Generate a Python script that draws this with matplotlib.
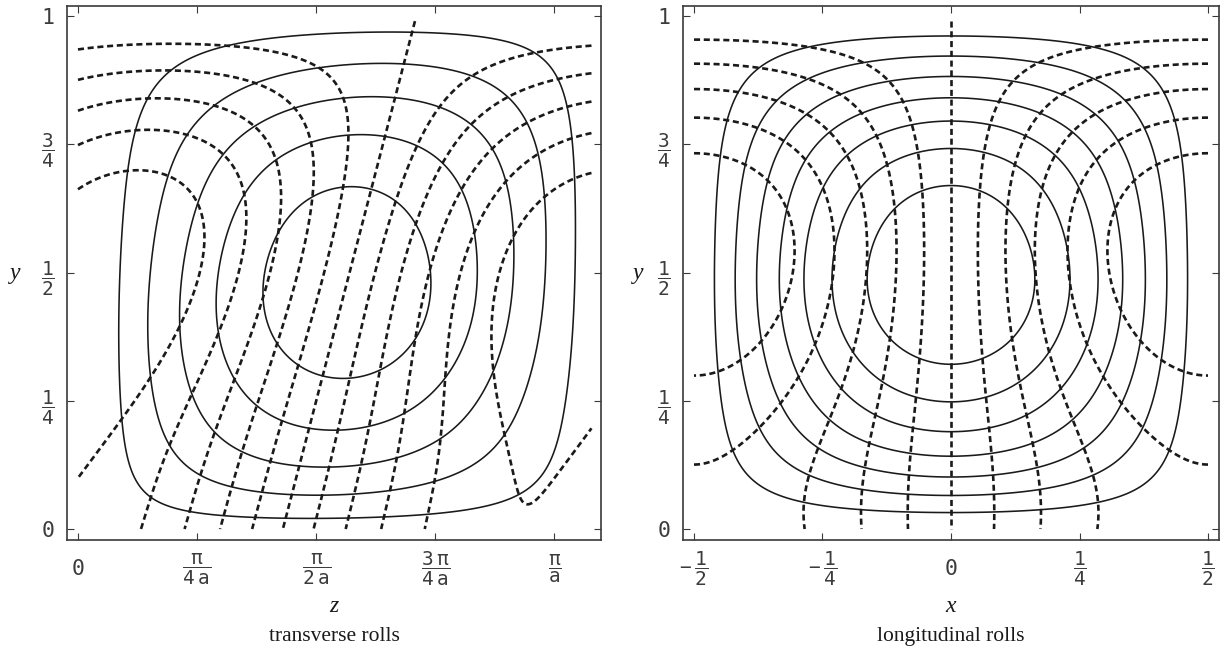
import numpy as np
import matplotlib
matplotlib.use("Agg")
import matplotlib.pyplot as plt

# ---------------------------------------------------------------- data
# Streamfunction profile across the layer (height, normalised value on roll axis)
axis_y = [0.0, 0.029, 0.063, 0.102, 0.144, 0.191, 0.248, 0.318, 0.497,
          0.674, 0.740, 0.794, 0.840, 0.883, 0.923, 0.961, 1.0]
axis_psi = [0.0, 0.125, 0.25, 0.375, 0.5, 0.625, 0.75, 0.875, 1.0,
            0.875, 0.75, 0.625, 0.5, 0.375, 0.25, 0.125, 0.0]

# Amplitude profiles of the dashed (isotherm) field
long_amp_y = [0.0, 0.129, 0.296, 0.5, 0.733, 0.805, 0.856, 0.904, 0.957, 1.0]
long_amp = [3.85, 4.0, 5.0, 6.05, 5.0, 4.0, 3.0, 2.0, 1.0, 0.0]
trans_amp_y = [0.0, 0.04, 0.103, 0.193, 0.5, 0.684, 0.759, 0.826, 0.885, 0.938, 1.0]
trans_amp = [4.96, 5.01, 5.05, 5.2, 6.0, 5.15, 4.25, 3.25, 2.2, 1.12, 0.0]

# Transverse rolls: phase line of the isotherm field and roll geometry (units of pi/a)
trans_phase0 = 0.43      # zero line at the bottom
trans_tilt = 0.28        # drift of the zero line per unit height
trans_zmax = 1.0776      # extent of the computed field in z
roll_centre = 0.565
roll_width = 1.02
roll_skew = -0.09        # corner distortion, strongest on the outer streamlines
roll_warp = 0.953        # roll core sits slightly below mid-height

# Contour levels
long_psi_levels = [1/8, 2/8, 3/8, 4/8, 5/8, 6/8, 7/8]
trans_psi_levels = [0.10, 0.29, 0.48, 0.67, 0.86]
iso_levels = [-5, -4, -3, -2, -1, 0, 1, 2, 3, 4, 5]

# Tick positions and labels
trans_xticks = [0, 0.25, 0.5, 0.75, 1.0]
trans_xlabels = ["0", r"$\dfrac{\pi}{4\ a}$", r"$\dfrac{\pi}{2\ a}$",
                 r"$\dfrac{3\ \pi}{4\ a}$", r"$\dfrac{\pi}{a}$"]
long_xticks = [-0.5, -0.25, 0, 0.25, 0.5]
long_xlabels = [r"$-\ \dfrac{1}{2}$", r"$-\ \dfrac{1}{4}$", "0",
                r"$\dfrac{1}{4}$", r"$\dfrac{1}{2}$"]
yticks = [0, 0.25, 0.5, 0.75, 1.0]
ylabels = ["0", r"$\dfrac{1}{4}$", r"$\dfrac{1}{2}$", r"$\dfrac{3}{4}$", "1"]

# ---------------------------------------------------------------- style
plt.rcParams.update({
    "mathtext.fontset": "custom",
    "mathtext.rm": "DejaVu Sans Mono",
    "mathtext.it": "DejaVu Sans Mono",
    "mathtext.bf": "DejaVu Sans Mono",
    "font.family": "DejaVu Sans Mono",
})
INK = "#1a1a1a"
FRAME = "#3a3a3a"
LABEL = "#3c3c3c"
SERIF = "Liberation Serif"


def sine_fit(yk, vk, nterms=6):
    """Least-squares sine series vanishing at y = 0 and y = 1."""
    yk = np.asarray(yk, float)
    M = np.column_stack([np.sin((k + 1) * np.pi * yk) for k in range(nterms)])
    coef, *_ = np.linalg.lstsq(M, np.asarray(vk, float), rcond=None)
    return lambda y: sum(c * np.sin((k + 1) * np.pi * y) for k, c in enumerate(coef))


def poly_fit(yk, vk, deg=5):
    p = np.polyfit(yk, vk, deg)
    return lambda y: np.polyval(p, y)


G = sine_fit(axis_y, axis_psi)
A_long = poly_fit(long_amp_y, long_amp)
A_trans = poly_fit(trans_amp_y, trans_amp)

n = 500
# ---------------- longitudinal rolls
xl = np.linspace(-0.5, 0.5, n)
yl = np.linspace(0.0, 1.0, n)
XL, YL = np.meshgrid(xl, yl)
psi_long = np.cos(np.pi * XL) * G(YL)
yl_iso = np.linspace(0.0, 0.99, n)
XLi, YLi = np.meshgrid(xl, yl_iso)
iso_long = np.sin(np.pi * XLi) * A_long(YLi)

# ---------------- transverse rolls
zt = np.linspace(0.0, trans_zmax, n)
ZT, YT = np.meshgrid(zt, yl)
u = (ZT - roll_centre) / roll_width
YW = YT ** roll_warp
psi0 = np.cos(np.pi * u) * G(YW)
psi_trans = psi0 + roll_skew * (1 - psi0) * np.sin(2 * np.pi * u) * np.sin(2 * np.pi * YW)
ZTi, YTi = np.meshgrid(zt, yl_iso)
iso_trans = A_trans(YTi) * np.sin(np.pi * (ZTi - trans_phase0 - trans_tilt * YTi))

# ---------------------------------------------------------------- figure
fig = plt.figure(figsize=(12.21, 6.52), dpi=100)
ax1 = fig.add_axes([67 / 1221, 112 / 652, 534 / 1221, 534 / 652])
ax2 = fig.add_axes([683 / 1221, 112 / 652, 536 / 1221, 534 / 652])

dash = (0, (2.3, 1.4))


def draw(ax, X, Y, psi, levels, Xi, Yi, iso):
    ax.contour(X, Y, psi, levels=levels, colors=INK, linewidths=1.15)
    cs = ax.contour(Xi, Yi, iso, levels=iso_levels, colors=INK, linewidths=1.9)
    cs.set_linestyle(dash)


draw(ax1, ZT, YT, psi_trans, trans_psi_levels, ZTi, YTi, iso_trans)
draw(ax2, XL, YL, psi_long, long_psi_levels, XLi, YLi, iso_long)

ax1.set_xlim(-0.023, trans_zmax + 0.02)
ax2.set_xlim(-0.5 - 0.0214, 0.5 + 0.0214)
ax1.set_xticks(trans_xticks)
ax1.set_xticklabels(trans_xlabels)
ax2.set_xticks(long_xticks)
ax2.set_xticklabels(long_xlabels)

for ax, ycoord in ((ax1, -0.097), (ax2, -0.084)):
    ax.set_ylim(-0.0214, 1.0195)
    ax.set_yticks(yticks)
    ax.set_yticklabels(ylabels)
    ax.tick_params(direction="in", length=5, width=0.8, color=FRAME,
                   top=True, right=True, labelsize=15.5, labelcolor=LABEL)
    ax.tick_params(axis="x", pad=21)
    ax.tick_params(axis="y", pad=9)
    for lab in ax.get_xticklabels():
        lab.set_verticalalignment("center")
    for lab in ax.get_xticklabels() + ax.get_yticklabels():
        if "$" in lab.get_text():
            lab.set_fontsize(14)
    for s in ax.spines.values():
        s.set_color(FRAME)
        s.set_linewidth(1.2)
    ax.set_ylabel("y", family=SERIF, style="italic", fontsize=17,
                  rotation=0, color=INK, va="center", ha="center")
    ax.yaxis.set_label_coords(ycoord, 0.5)

for ax, var, title in ((ax1, "z", "transverse rolls"), (ax2, "x", "longitudinal rolls")):
    ax.text(0.5, -0.125, var, transform=ax.transAxes, ha="center", va="center",
            family=SERIF, style="italic", fontsize=17, color=INK)
    ax.text(0.5, -0.18, title, transform=ax.transAxes, ha="center", va="center",
            family=SERIF, fontsize=15.5, color=INK)

fig.savefig("out.png", dpi=100, facecolor="white")
